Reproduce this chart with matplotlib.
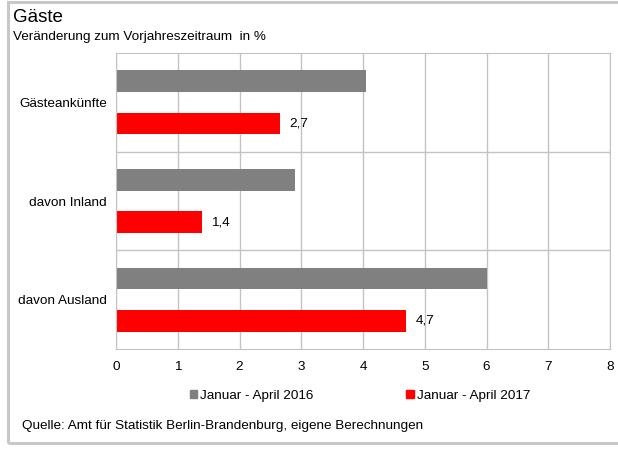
import matplotlib
matplotlib.use("Agg")
import matplotlib.pyplot as plt
from matplotlib.patches import Rectangle, Patch

plt.rcParams["font.family"] = ["Liberation Sans", "DejaVu Sans"]

categories = ["Gästeankünfte", "davon Inland", "davon Ausland"]
series_names = ["Januar - April 2016", "Januar - April 2017"]
values_2016 = [4.05, 2.9, 6.0]
values_2017 = [2.66, 1.4, 4.7]
x_ticks = [0, 1, 2, 3, 4, 5, 6, 7, 8]

gray = "#808080"
red = "#ff0000"
grid_col = "#c3c3c3"
fs = 9.7

fig = plt.figure(figsize=(6.18, 4.5), dpi=100)
fig.patch.set_facecolor("white")

# outer frame
fig.patches.append(Rectangle((8 / 618, 7 / 450), 1.2, 441 / 450, transform=fig.transFigure,
                             fill=False, edgecolor="#c8c8c8", linewidth=2.2))

ax = fig.add_axes([116 / 618, 1 - 349 / 450, (610 - 116) / 618, (349 - 53) / 450])

pos = list(range(len(categories)))
h = 0.22
ax.barh([p - 0.215 for p in pos], values_2016, height=h, color=gray, label=series_names[0])
bars = ax.barh([p + 0.215 for p in pos], values_2017, height=h, color=red, label=series_names[1])

for b, v in zip(bars, values_2017):
    ax.annotate(f"{v:.1f}".replace(".", ","), (b.get_width(), b.get_y() + b.get_height() / 2),
                xytext=(6.5, 0), textcoords="offset points", ha="left", va="center", fontsize=fs)

ax.set_xlim(0, 8)
ax.set_ylim(2.5, -0.5)
ax.set_xticks(x_ticks)
ax.set_xticklabels([str(t) for t in x_ticks])
ax.set_yticks(pos)
ax.set_yticklabels(categories)
ax.set_yticks([0.5, 1.5], minor=True)
ax.tick_params(axis="both", which="both", length=0, labelsize=fs)
ax.tick_params(axis="x", pad=9)
ax.tick_params(axis="y", pad=6.5)
ax.grid(axis="x", color=grid_col, linewidth=1)
ax.grid(axis="y", which="minor", color=grid_col, linewidth=1)
ax.set_axisbelow(True)
for s in ax.spines.values():
    s.set_color(grid_col)

fig.text(13 / 618, 1 - 17 / 450, "Gäste", fontsize=13.5, va="center", ha="left")
fig.text(13 / 618, 1 - 37 / 450, "Veränderung zum Vorjahreszeitraum  in %", fontsize=fs,
         va="center", ha="left")

handles = [Patch(color=gray), Patch(color=red)]
fig.legend(handles, series_names, loc="center", bbox_to_anchor=(360 / 618, 1 - 396 / 450),
           ncol=2, frameon=False, fontsize=fs, handlelength=0.55, handleheight=0.55,
           handletextpad=0.22, columnspacing=6.9)

fig.text(22 / 618, 1 - 426 / 450, "Quelle: Amt für Statistik Berlin-Brandenburg, eigene Berechnungen",
         fontsize=fs, va="center", ha="left")

fig.savefig("out.png", dpi=100)
